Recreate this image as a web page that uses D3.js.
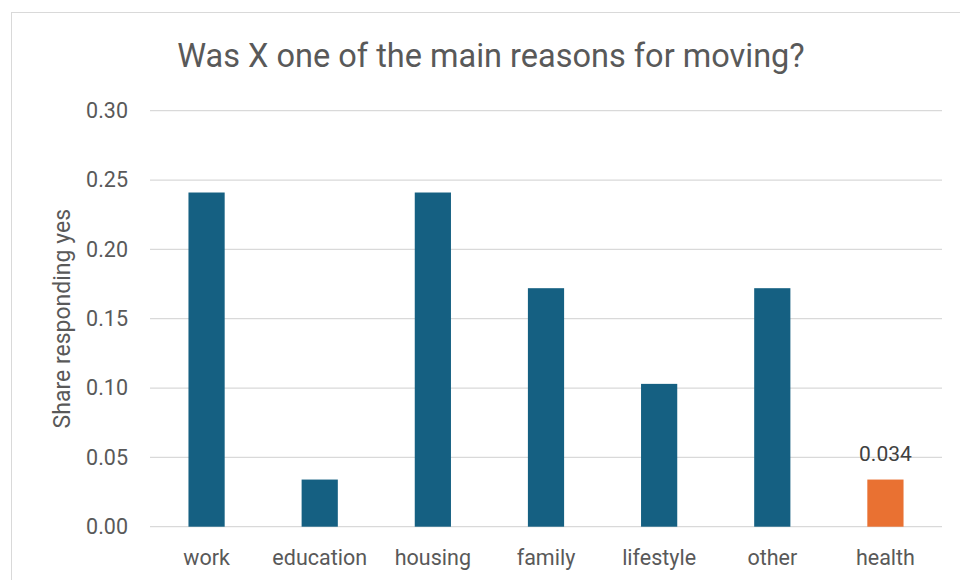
<!DOCTYPE html>
<html>
<head>
<meta charset="utf-8">
<script src="https://cdn.jsdelivr.net/npm/d3@7"></script>
<style>
  html, body { margin: 0; padding: 0; background: #fff; }
  svg { display: block; font-family: Roboto, "Open Sans", sans-serif; }
</style>
</head>
<body>
<svg id="chart" width="960" height="580"></svg>
<script>
// Survey results: share of movers citing each reason
const categories = ["work", "education", "housing", "family", "lifestyle", "other", "health"];
const shares = [0.241, 0.034, 0.241, 0.172, 0.103, 0.172, 0.034];
const highlighted = ["health"];
const yTicks = [0, 0.05, 0.10, 0.15, 0.20, 0.25, 0.30];

const svg = d3.select("#chart");
const plot = { left: 150, right: 942, top: 110.7, bottom: 526.7 };

// chart frame
svg.append("rect")
  .attr("x", 11.5).attr("y", 12.5)
  .attr("width", 960).attr("height", 600)
  .attr("fill", "#fff").attr("stroke", "#d9d9d9").attr("stroke-width", 1);

const x = d3.scaleBand()
  .domain(categories)
  .range([plot.left, plot.right])
  .paddingInner(0.68)
  .paddingOuter(0.34);

const y = d3.scaleLinear()
  .domain([0, 0.30])
  .range([plot.bottom, plot.top]);

// gridlines
svg.append("g")
  .selectAll("line")
  .data(yTicks)
  .join("line")
  .attr("x1", plot.left).attr("x2", plot.right)
  .attr("y1", d => y(d)).attr("y2", d => y(d))
  .attr("stroke", "#d9d9d9").attr("stroke-width", 1.3);

// y axis labels
const yAxis = d3.axisLeft(y).tickValues(yTicks).tickFormat(d3.format(".2f")).tickSize(0).tickPadding(0);
const gy = svg.append("g").attr("transform", `translate(${plot.left - 22},0)`).call(yAxis);
gy.select(".domain").remove();
gy.selectAll("text")
  .attr("fill", "#595959")
  .attr("font-size", 21.5)
  .attr("font-family", "Roboto, sans-serif");

// bars
svg.append("g")
  .selectAll("rect")
  .data(categories.map((c, i) => ({ c, v: shares[i] })))
  .join("rect")
  .attr("x", d => x(d.c))
  .attr("width", x.bandwidth())
  .attr("y", d => y(d.v))
  .attr("height", d => y(0) - y(d.v))
  .attr("fill", d => highlighted.includes(d.c) ? "#e97132" : "#156082");

// x axis labels
const xAxis = d3.axisBottom(x).tickSize(0).tickPadding(0);
const gx = svg.append("g").attr("transform", `translate(0,${plot.bottom + 23})`).call(xAxis);
gx.select(".domain").remove();
gx.selectAll("text")
  .attr("fill", "#595959")
  .attr("font-size", 21.5)
  .attr("font-family", "Roboto, sans-serif");

// value label on the highlighted bar
svg.append("g")
  .selectAll("text")
  .data(categories.map((c, i) => ({ c, v: shares[i] })).filter(d => highlighted.includes(d.c)))
  .join("text")
  .attr("x", d => x(d.c) + x.bandwidth() / 2)
  .attr("y", d => y(d.v) - 19)
  .attr("text-anchor", "middle")
  .attr("fill", "#404040")
  .attr("font-size", 21)
  .text(d => d3.format(".3f")(d.v));

// y axis title
svg.append("text")
  .attr("transform", `translate(70,${(plot.top + plot.bottom) / 2}) rotate(-90)`)
  .attr("text-anchor", "middle")
  .attr("fill", "#595959")
  .attr("font-size", 23)
  .text("Share responding yes");

// chart title
svg.append("text")
  .attr("x", 491).attr("y", 67)
  .attr("text-anchor", "middle")
  .attr("fill", "#595959")
  .attr("font-size", 32.5)
  .text("Was X one of the main reasons for moving?");
</script>
</body>
</html>
